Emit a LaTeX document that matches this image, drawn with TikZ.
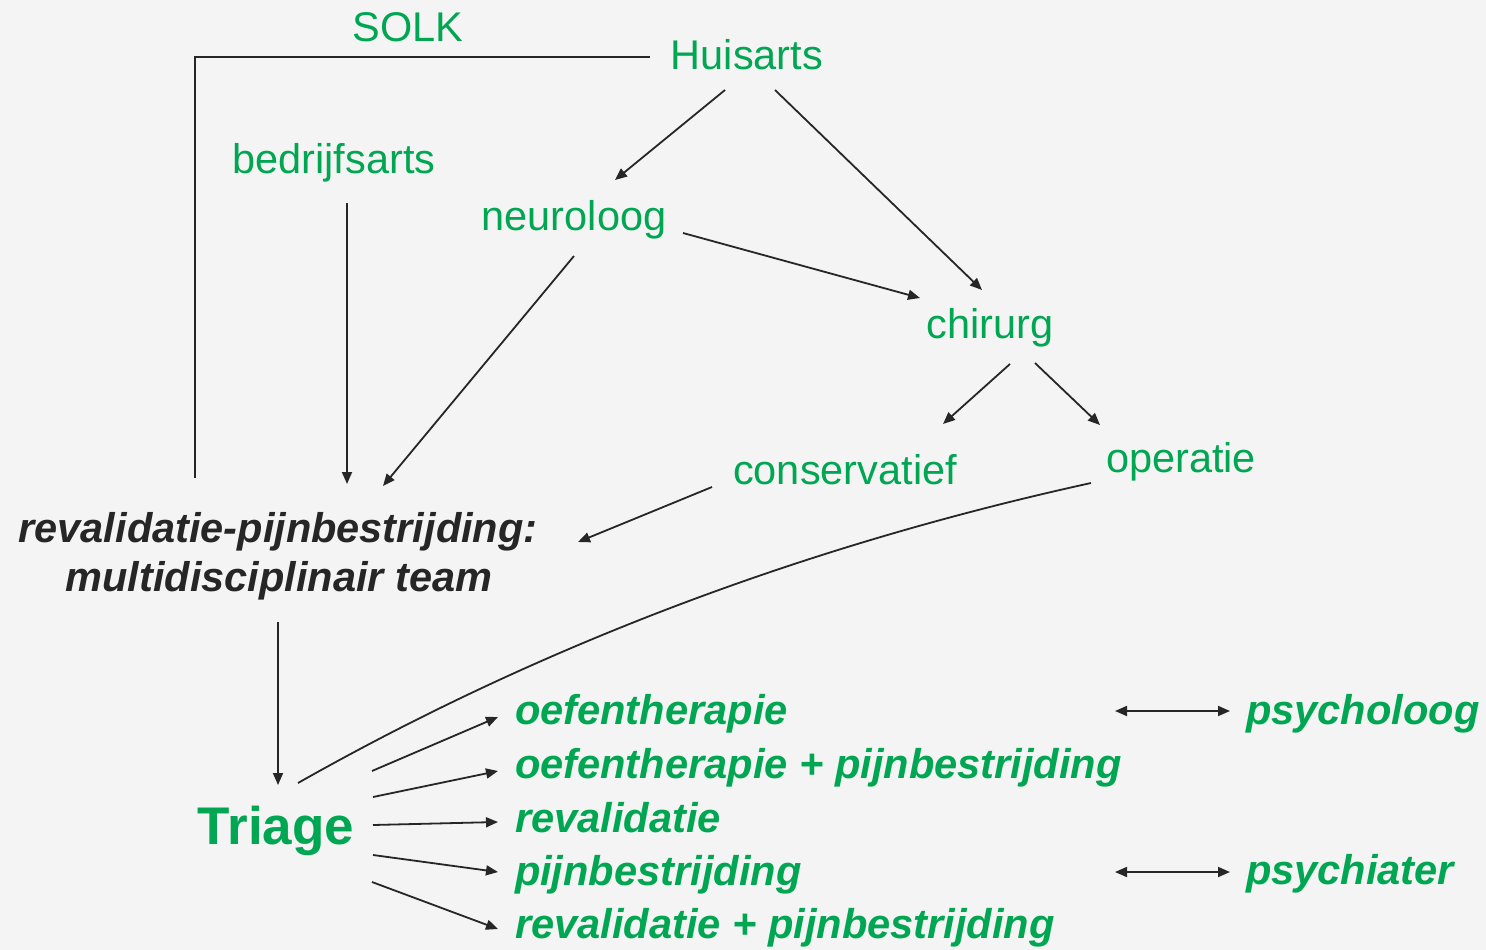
\documentclass[tikz,border=0pt]{standalone}
\usepackage{fontspec}
\setmainfont{Liberation Sans}
\usetikzlibrary{arrows.meta,calc}
\definecolor{grn}{RGB}{0,166,81}
\definecolor{ink}{RGB}{38,38,38}
\definecolor{bg}{RGB}{244,244,244}
\begin{document}
\begin{tikzpicture}[x=1pt,y=-1pt,
  lbl/.style={anchor=base, inner sep=0pt, outer sep=0pt, text=grn, font=\fontsize{41.5}{49}\selectfont},
  lblw/.style={anchor=base west, inner sep=0pt, outer sep=0pt, text=grn, font=\fontsize{41.6}{49}\selectfont\bfseries\itshape},
  team/.style={anchor=base, inner sep=0pt, outer sep=0pt, text=ink, font=\fontsize{41.5}{49}\selectfont\bfseries\itshape},
  ln/.style={draw=ink, line width=1.8pt},
  arr/.style={ln, -{Triangle[length=12pt,width=10pt]}},
  darr/.style={ln, {Triangle[length=12pt,width=10pt]}-{Triangle[length=12pt,width=10pt]}}]
\useasboundingbox (0,0) rectangle (1486,950);
\fill[bg] (0,0) rectangle (1486,950);

\node[lbl] (solk) at (408,42) {SOLK};
\node[lbl] (huis) at (747,70) {Huisarts};
\node[lbl] (bedr) at (334,173) {bedrijfsarts};
\node[lbl] (neuro) at (574,230) {neuroloog};
\node[lbl] (chir) at (990,338) {chirurg};
\node[lbl] (cons) at (845,484) {conservatief};
\node[lbl] (oper) at (1181,472) {operatie};
\node[team] (rev) at (278,542) {revalidatie-pijnbestrijding:};
\node[team] (mdt) at (279,591) {multidisciplinair team};
\node[anchor=base, inner sep=0pt, outer sep=0pt, text=grn, font=\fontsize{53}{60}\selectfont\bfseries] (tri) at (276,844) {Triage};

\node[lblw] (o1) at (515,724) {oefentherapie};
\node[lblw] (o2) at (515,778) {oefentherapie + pijnbestrijding};
\node[lblw] (o3) at (515,832) {revalidatie};
\node[lblw] (o4) at (515,885) {pijnbestrijding};
\node[lblw] (o5) at (515,938) {revalidatie + pijnbestrijding};
\node[lblw] (psl) at (1246,724) {psycholoog};
\node[lblw] (psa) at (1246,884) {psychiater};

% SOLK bracket
\draw[ln] ([shift={(-97,-13)}]huis.base) -| ([shift={(-83,-64)}]rev.base);

\draw[arr] ([shift={(-22,20)}]huis.base) -- ([shift={(41,-50)}]neuro.base);
\draw[arr] ([shift={(28,20)}]huis.base) -- ([shift={(-8,-48)}]chir.base);
\draw[arr] ([shift={(13,30)}]bedr.base) -- ([shift={(69,-58)}]rev.base);
\draw[arr] ([shift={(0,26)}]neuro.base) -- ([shift={(105,-56)}]rev.base);
\draw[arr] ([shift={(109,3)}]neuro.base) -- ([shift={(-70,-40)}]chir.base);
\draw[arr] ([shift={(20,26)}]chir.base) -- ([shift={(98,-60)}]cons.base);
\draw[arr] ([shift={(45,25)}]chir.base) -- ([shift={(-81,-47)}]oper.base);
\draw[arr] ([shift={(-133,3)}]cons.base) -- ([shift={(300,0)}]rev.base);
\draw[ln] ([shift={(-90,11)}]oper.base) .. controls (804,546) and (540,646) .. ([shift={(22,-61)}]tri.base);
\draw[arr] ([shift={(-1,31)}]mdt.base) -- ([shift={(2,-59)}]tri.base);

\draw[arr] ([shift={(96,-73)}]tri.base) -- ([shift={(-17,-7)}]o1.base west);
\draw[arr] ([shift={(97,-47)}]tri.base) -- ([shift={(-17,-7)}]o2.base west);
\draw[arr] ([shift={(97,-19)}]tri.base) -- ([shift={(-17,-10)}]o3.base west);
\draw[arr] ([shift={(97,11)}]tri.base) -- ([shift={(-17,-13)}]o4.base west);
\draw[arr] ([shift={(96,38)}]tri.base) -- ([shift={(-17,-9)}]o5.base west);

\draw[darr] ([shift={(-131,-13)}]psl.base west) -- ([shift={(-16,-13)}]psl.base west);
\draw[darr] ([shift={(-131,-12)}]psa.base west) -- ([shift={(-16,-12)}]psa.base west);
\end{tikzpicture}
\end{document}
